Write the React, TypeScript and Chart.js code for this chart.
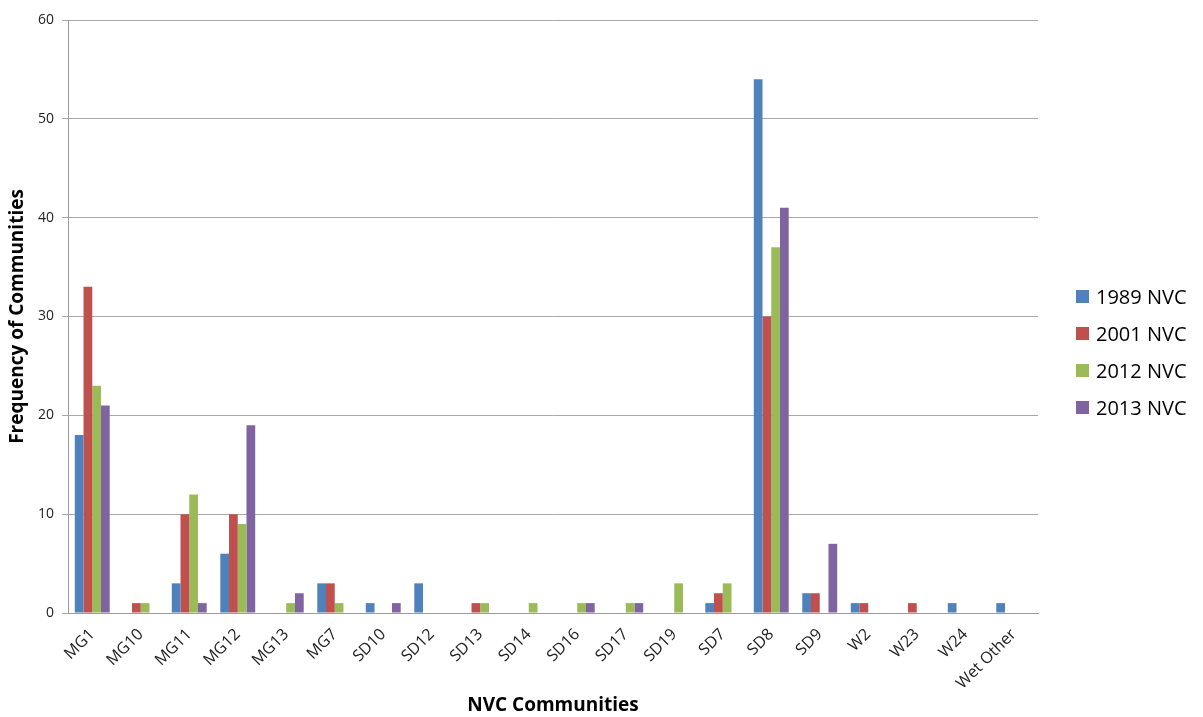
import React, { useEffect, useRef } from "react";
import { Chart, registerables } from "chart.js";

Chart.register(...registerables);

const categories = [
  "MG1", "MG10", "MG11", "MG12", "MG13", "MG7", "SD10", "SD12", "SD13", "SD14",
  "SD16", "SD17", "SD19", "SD7", "SD8", "SD9", "W2", "W23", "W24", "Wet Other",
];

const nvc1989 = [18, 0, 3, 6, 0, 3, 1, 3, 0, 0, 0, 0, 0, 1, 54, 2, 1, 0, 1, 1];
const nvc2001 = [33, 1, 10, 10, 0, 3, 0, 0, 1, 0, 0, 0, 0, 2, 30, 2, 1, 1, 0, 0];
const nvc2012 = [23, 1, 12, 9, 1, 1, 0, 0, 1, 1, 1, 1, 3, 3, 37, 0, 0, 0, 0, 0];
const nvc2013 = [21, 0, 1, 19, 2, 0, 1, 0, 0, 0, 1, 1, 0, 0, 41, 7, 0, 0, 0, 0];

const seriesNames = ["1989 NVC", "2001 NVC", "2012 NVC", "2013 NVC"];
const seriesColors = ["#4F81BD", "#C0504D", "#9BBB59", "#8064A2"];
const yTicks = [0, 10, 20, 30, 40, 50, 60];

const FONT = "'Open Sans', 'Noto Sans', sans-serif";

export default function App() {
  const canvasRef = useRef<HTMLCanvasElement>(null);

  useEffect(() => {
    const canvas = canvasRef.current;
    if (!canvas) return;
    const values = [nvc1989, nvc2001, nvc2012, nvc2013];
    const chart = new Chart(canvas, {
      type: "bar",
      data: {
        labels: categories,
        datasets: values.map((data, i) => ({
          label: seriesNames[i],
          data,
          backgroundColor: seriesColors[i],
          borderWidth: 0,
          categoryPercentage: 0.72,
          barPercentage: 1,
        })),
      },
      options: {
        animation: false,
        responsive: false,
        maintainAspectRatio: false,
        layout: { padding: { left: 0, top: 20, right: 165, bottom: 0 } },
        plugins: {
          legend: { display: false },
          tooltip: { enabled: false },
        },
        scales: {
          x: {
            grid: { display: false },
            border: { display: true, color: "#9a9a9a", width: 1 },
            ticks: {
              maxRotation: 45,
              minRotation: 45,
              autoSkip: false,
              color: "#222",
              font: { family: FONT, size: 16 },
              padding: 4,
            },
            title: {
              display: true,
              text: "NVC Communities",
              color: "#000",
              font: { family: FONT, size: 19, weight: "bold" },
              padding: { top: 0, bottom: 0 },
            },
            afterFit: (scale: any) => {
              scale.height = 104;
            },
          },
          y: {
            min: 0,
            max: 60,
            afterBuildTicks: (scale: any) => {
              scale.ticks = yTicks.map((v) => ({ value: v }));
            },
            grid: { color: "#a8a8a8", tickLength: 6, lineWidth: 1 },
            border: { display: true, color: "#9a9a9a", width: 1 },
            ticks: {
              color: "#222",
              font: { family: FONT, size: 14 },
              padding: 8,
            },
            title: {
              display: true,
              text: "Frequency of Communities",
              color: "#000",
              font: { family: FONT, size: 19, weight: "bold" },
              padding: { top: 6, bottom: 0 },
            },
            afterFit: (scale: any) => {
              scale.width = 68;
            },
          },
        },
      },
    });
    return () => chart.destroy();
  }, []);

  return (
    <div style={{ position: "fixed", left: 0, top: 0, width: 1203, height: 717, background: "#fff" }}>
      <canvas ref={canvasRef} width={1203} height={717} style={{ display: "block" }} />
      <div style={{ position: "absolute", left: 1076, top: 278, fontFamily: FONT, fontSize: 20, color: "#000" }}>
        {seriesNames.map((name, i) => (
          <div key={name} style={{ display: "flex", alignItems: "center", height: 37 }}>
            <span style={{ width: 13, height: 13, background: seriesColors[i], marginRight: 7, display: "inline-block" }} />
            <span>{name}</span>
          </div>
        ))}
      </div>
    </div>
  );
}
